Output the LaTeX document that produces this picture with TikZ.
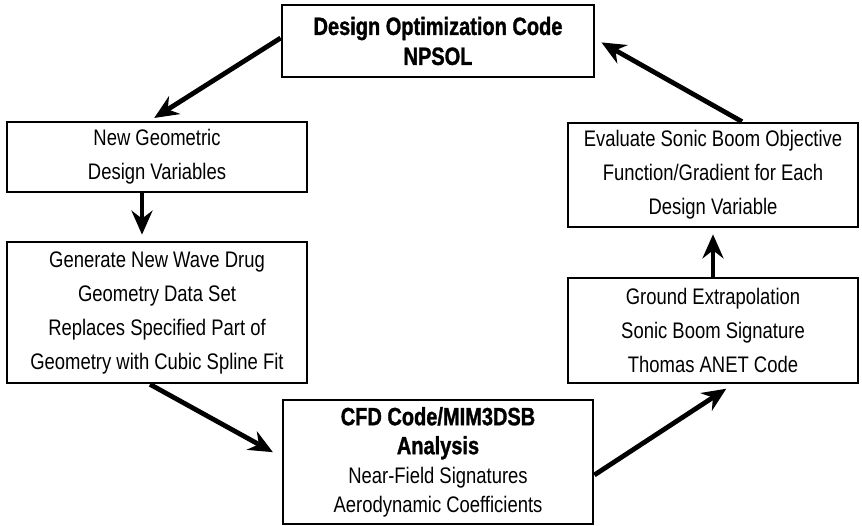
\documentclass[tikz,border=0pt]{standalone}
\usepackage{fontspec}
\usetikzlibrary{arrows.meta}
\newfontfamily\plainfont{Liberation Sans}[FakeStretch=0.82]
\newfontfamily\blackfont{Liberation Sans}[FakeStretch=0.8,FakeBold=1.2]
\newcommand{\hd}[1]{{\blackfont\bfseries\fontsize{25}{29}\selectfont #1}}

\begin{document}
\begin{tikzpicture}[x=1pt,y=-1pt,
        box/.style={draw,line width=2.7pt,align=center,inner sep=0pt,
            font=\plainfont\fontsize{22.5}{34}\selectfont},
        flow/.style={line width=4.8pt,-{Stealth[length=24pt,width=21pt,inset=8pt]}}]
    \useasboundingbox (0,0) rectangle (862,526);
    % boxes of the loop
    \node[box,minimum width=312pt,minimum height=72pt,
        font=\plainfont\fontsize{22.5}{30}\selectfont] (opt) at (438,41)
        {\hd{Design Optimization Code}\\ \hd{NPSOL}};
    \node[box,minimum width=300pt,minimum height=70pt] (vars) at (157,157)
        {New Geometric\\ Design Variables};
    \node[box,minimum width=300pt,minimum height=141pt] (geom) at (157,312.5)
        {Generate New Wave Drug\\ Geometry Data Set\\ Replaces Specified Part of\\ Geometry with Cubic Spline Fit};
    \node[box,minimum width=310pt,minimum height=124pt,
        font=\plainfont\fontsize{22.5}{29}\selectfont] (cfd) at (438,462)
        {\hd{CFD Code/MIM3DSB}\\ \hd{Analysis}\\ Near-Field Signatures\\ Aerodynamic Coefficients};
    \node[box,minimum width=290pt,minimum height=105pt] (ground) at (713,330.5)
        {Ground Extrapolation\\ Sonic Boom Signature\\ Thomas ANET Code};
    \node[box,minimum width=290pt,minimum height=104pt] (eval) at (713,175)
        {Evaluate Sonic Boom Objective\\ Function/Gradient for Each\\ Design Variable};
    % arrows
    \draw[flow,shorten >=5pt] ([yshift=3pt]opt.west) -- ([xshift=-7pt]vars.north);
    \draw[flow,shorten >=6pt] ([xshift=-15pt]vars.south) -- ([xshift=-15pt]geom.north);
    \draw[flow,shorten >=10pt] ([xshift=-7pt]geom.south) -- ([yshift=5pt]cfd.west);
    \draw[flow,shorten >=8pt] ([yshift=-13pt]cfd.east) -- ([xshift=20pt]ground.south);
    \draw[flow,shorten >=6pt] (ground.north) -- (eval.south);
    \draw[flow,shorten >=7pt] ([xshift=29pt]eval.north) -- ([yshift=2pt]opt.east);
\end{tikzpicture}
\end{document}
